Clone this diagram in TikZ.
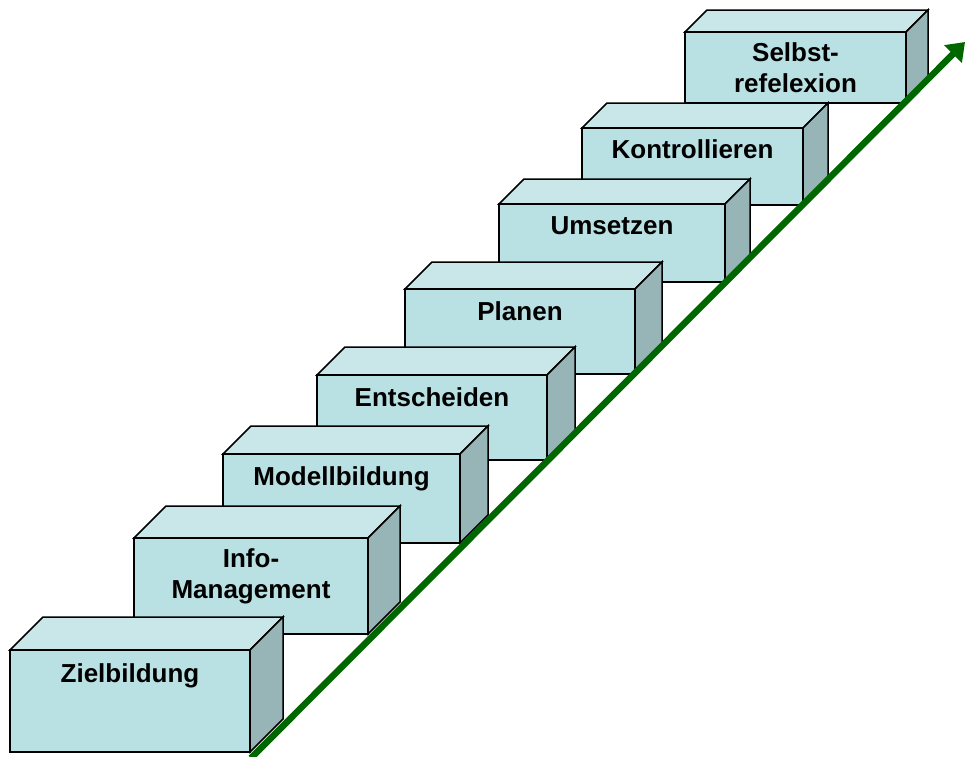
\documentclass[tikz,border=0pt]{standalone}
\usepackage{fontspec}
\setmainfont{Liberation Sans}
\usetikzlibrary{arrows.meta}
\definecolor{frontc}{RGB}{185,224,227}
\definecolor{topc}{RGB}{201,230,233}
\definecolor{sidec}{RGB}{151,180,183}
\definecolor{arrowgreen}{RGB}{0,102,0}
\tikzset{
  faceedge/.style={draw=black, line width=1.5pt, line join=miter},
  label/.style={font=\fontsize{26}{31}\selectfont\bfseries, inner sep=0pt, align=center},
  progress/.style={draw=arrowgreen, line width=6.5pt, -{Triangle[length=17pt,width=24pt]}}
}
% #1 name, #2 left, #3 top, #4 right, #5 bottom, #6 depth, #7 text, #8 baseline of last line below top
\newcommand\stepcube[8]{%
  \filldraw[faceedge, fill=topc] (#2,#3) -- (#2+#6,#3-#6) -- (#4+#6,#3-#6) -- (#4,#3) -- cycle;
  \filldraw[faceedge, fill=sidec] (#4,#3) -- (#4+#6,#3-#6) -- (#4+#6,#5-#6) -- (#4,#5) -- cycle;
  \filldraw[faceedge, fill=frontc] (#2,#3) rectangle (#4,#5);
  \node[label, anchor=base] (#1) at ({(#2+#4)/2},#3+#8) {#7};
}
\begin{document}
\begin{tikzpicture}[x=1pt,y=-1pt]
\useasboundingbox (0,0) rectangle (965,756);
\stepcube{selbst}{685}{32}{906}{103}{22}{Selbst-\\refelexion}{60}
\stepcube{kontrollieren}{582}{128}{803}{205}{25}{Kontrollieren}{30}
\stepcube{umsetzen}{499}{204}{725}{282}{25}{Umsetzen}{30}
\stepcube{planen}{405}{289}{635}{374}{27}{Planen}{31}
\stepcube{entscheiden}{317}{375}{547}{460}{28}{Entscheiden}{31}
\stepcube{modell}{223}{454}{460}{543}{28}{Modellbildung}{31}
\stepcube{info}{134}{538}{368}{634}{32}{Info-\\Management}{60}
\stepcube{ziel}{10}{650}{250}{752}{33}{Zielbildung}{32}
\coordinate (arrowstart) at (251,758);
\coordinate (arrowtip) at (965,42);
\draw[progress] (arrowstart) -- (arrowtip);
\end{tikzpicture}
\end{document}
